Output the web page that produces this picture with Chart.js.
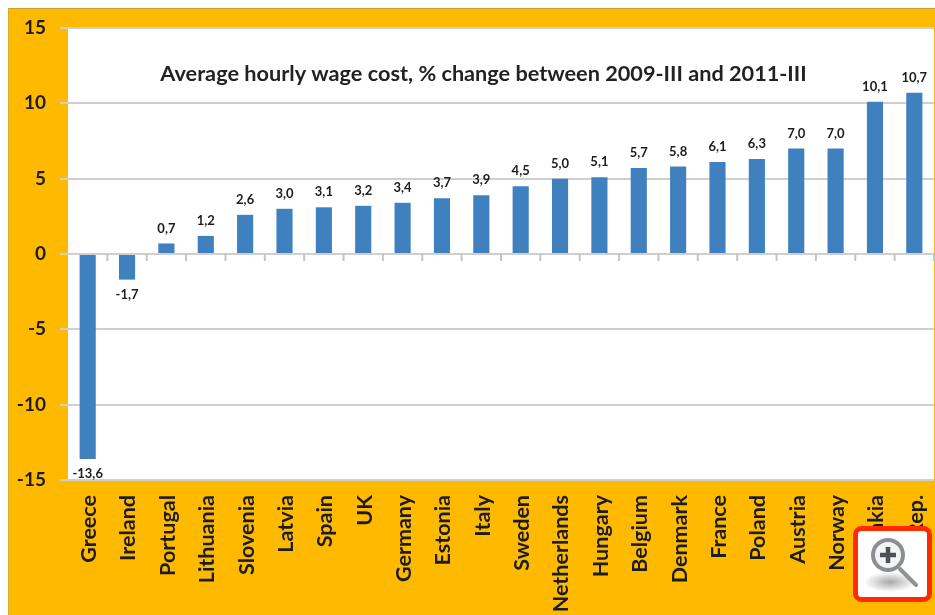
<!DOCTYPE html>
<html>
<head>
<meta charset="utf-8">
<title>Average hourly wage cost</title>
<script src="https://cdn.jsdelivr.net/npm/chart.js@4/dist/chart.umd.min.js"></script>
<style>
  html, body { margin: 0; padding: 0; background: #fff; overflow: hidden; }
  #wrap { position: relative; width: 935px; height: 615px; }
  #panel { position: absolute; left: 8px; top: 8px; right: 0; bottom: 0; background: #ffba00; border-top: 1px solid #c9a032; border-left: 1px solid #d8a92c; box-sizing: border-box; }
  #chart { position: absolute; left: 0; top: 0; filter: blur(0.7px); }
  #zoomIcon { position: absolute; left: 853px; top: 526px; width: 79px; height: 76px; filter: blur(0.5px); }
</style>
</head>
<body>
<div id="wrap">
  <div id="panel"></div>
  <canvas id="chart" width="935" height="615"></canvas>
  <svg id="zoomIcon" viewBox="0 0 79 76">
    <defs>
      <radialGradient id="shade">
        <stop offset="0" stop-color="#a8a8a8"/>
        <stop offset="1" stop-color="#ffffff"/>
      </radialGradient>
    </defs>
    <rect x="2.5" y="2.5" width="74" height="71" rx="6" fill="#fff" stroke="#ff2a00" stroke-width="5"/>
    <ellipse cx="37" cy="56" rx="26" ry="10" fill="url(#shade)"/>
    <line x1="47" y1="43" x2="63" y2="59" stroke="#8d9499" stroke-width="4" stroke-linecap="round"/>
    <circle cx="35" cy="29" r="15" fill="#f4f4f4" stroke="#8b8f93" stroke-width="4"/>
    <path d="M35 21v16M27 29h16" stroke="#4d5054" stroke-width="4.5"/>
  </svg>
</div>
<script>
// Average hourly wage cost, % change
const categories = ['Greece', 'Ireland', 'Portugal', 'Lithuania', 'Slovenia', 'Latvia', 'Spain', 'UK',
    'Germany', 'Estonia', 'Italy', 'Sweden', 'Netherlands', 'Hungary', 'Belgium', 'Denmark',
    'France', 'Poland', 'Austria', 'Norway', 'Slovakia', 'Czech Rep.'];
const wageChange = [-13.6, -1.7, 0.7, 1.2, 2.6, 3.0, 3.1, 3.2, 3.4, 3.7, 3.9, 4.5, 5.0, 5.1, 5.7, 5.8,
    6.1, 6.3, 7.0, 7.0, 10.1, 10.7];
const yTicks = [15, 10, 5, 0, -5, -10, -15];
const chartTitle = 'Average hourly wage cost, % change between 2009-III and 2011-III';

const fontName = 'Lato, "Open Sans", sans-serif';

// white plot background, goes under the grid
const plotBackground = {
    id: 'plotBackground',
    beforeDraw(chart) {
        const a = chart.chartArea;
        chart.ctx.save();
        chart.ctx.fillStyle = '#ffffff';
        chart.ctx.fillRect(a.left, a.top, a.right - a.left, a.bottom - a.top);
        chart.ctx.restore();
    }
};

// small marks under the zero line, between the categories
const zeroTicks = {
    id: 'zeroTicks',
    beforeDatasetsDraw(chart) {
        const ctx = chart.ctx;
        const xs = chart.scales.x;
        const zero = chart.scales.y.getPixelForValue(0);
        const step = xs.getPixelForValue(1) - xs.getPixelForValue(0);
        ctx.save();
        ctx.strokeStyle = '#c4c4c4';
        ctx.lineWidth = 2;
        categories.forEach((c, i) => {
            const x = xs.getPixelForValue(i) + step / 2;
            ctx.beginPath();
            ctx.moveTo(x, zero);
            ctx.lineTo(x, zero + 7);
            ctx.stroke();
        });
        ctx.restore();
    }
};

// value labels and the title sit inside the plot
const barLabels = {
    id: 'barLabels',
    afterDatasetsDraw(chart) {
        const ctx = chart.ctx;
        const bars = chart.getDatasetMeta(0).data;
        ctx.save();
        ctx.textAlign = 'center';
        ctx.textBaseline = 'middle';
        ctx.fillStyle = '#1c1c1c';
        ctx.font = 'bold 13px ' + fontName;
        bars.forEach((bar, i) => {
            const v = wageChange[i];
            const y = v < 0 ? bar.y + 15 : bar.y - 15;
            ctx.fillText(v.toFixed(1).replace('.', ','), bar.x, y);
        });
        ctx.font = 'bold 21.7px ' + fontName;
        ctx.fillStyle = '#222222';
        ctx.fillText(chartTitle, 483.5, 74);
        ctx.restore();
    }
};

new Chart(document.getElementById('chart').getContext('2d'), {
    type: 'bar',
    data: {
        labels: categories,
        datasets: [{
            label: 'Wage cost change',
            data: wageChange,
            backgroundColor: '#3f80bf',
            categoryPercentage: 1,
            barPercentage: 0.41
        }]
    },
    options: {
        responsive: false,
        animation: false,
        layout: { padding: { top: 28, right: 1, left: 0, bottom: 0 } },
        plugins: {
            legend: { display: false },
            tooltip: { enabled: false }
        },
        scales: {
            x: {
                grid: { display: false },
                border: { display: false },
                afterFit(scale) {
                    scale.height = 135;
                    scale.paddingLeft = 0;
                    scale.paddingRight = 0;
                },
                ticks: {
                    minRotation: 90,
                    maxRotation: 90,
                    autoSkip: false,
                    padding: 7,
                    labelOffset: 1.5,
                    color: '#1c1c1c',
                    font: { family: fontName, size: 21.5, weight: 'bold' }
                }
            },
            y: {
                min: -15,
                max: 15,
                afterFit(scale) { scale.width = 68; },
                afterBuildTicks(scale) { scale.ticks = yTicks.map(v => ({ value: v })); },
                grid: { color: '#cfcfcf', lineWidth: 2, tickLength: 8 },
                border: { display: false },
                ticks: {
                    padding: 14,
                    color: '#1c1c1c',
                    font: { family: fontName, size: 19, weight: 'bold' }
                }
            }
        }
    },
    plugins: [plotBackground, zeroTicks, barLabels]
});
</script>
</body>
</html>
